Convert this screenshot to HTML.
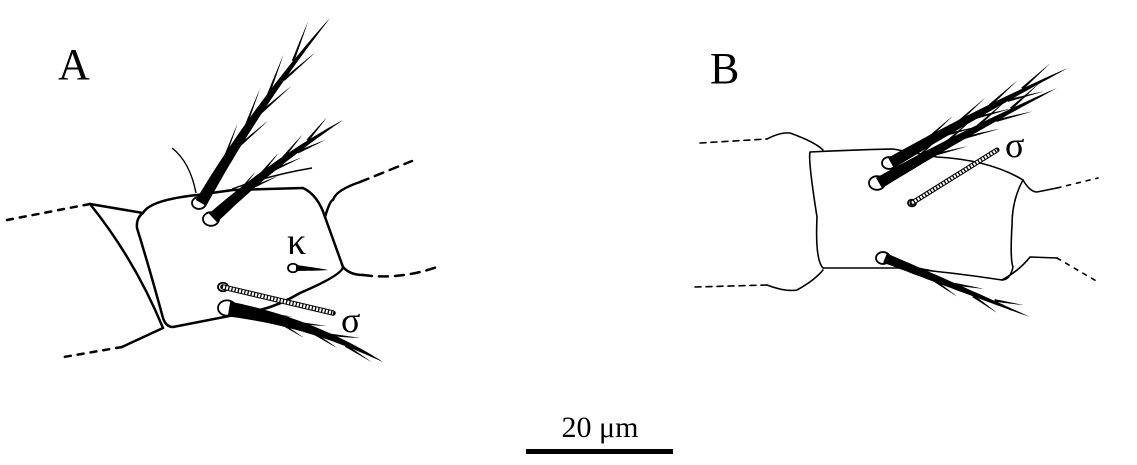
<!DOCTYPE html>
<html><head><meta charset="utf-8"><style>
html,body{margin:0;padding:0;background:#fff;}
svg{display:block}
text{font-family:"Liberation Serif",serif;fill:#000}
</style></head><body>
<svg id="s" width="1137" height="465" viewBox="0 0 1137 465" xmlns="http://www.w3.org/2000/svg">
<g fill="none" stroke="#000" stroke-linejoin="round" stroke-linecap="round">
<path d="M90,204 L143,213" stroke-width="2.5"/>
<path d="M7,220 L90,204" stroke-width="2.5" stroke-dasharray="6,7"/>
<path d="M90,204 Q135,260 163,328" stroke-width="2.5"/>
<path d="M163,328 L122,347" stroke-width="2.5"/>
<path d="M122,347 L58,358" stroke-width="2.5" stroke-dasharray="6,7"/>
<path d="M143,213 Q150,200 197,195 L233,190 L303,188 Q318,195 325,217 L343,267 Q342,275 300,293 Q280,305 260,310 L173,327 Q166,327 163,318 Q150,270 137,228 Q136,218 143,213 Z" stroke-width="2.5"/>
<path d="M325,217 Q330,200 333,200 Q336,190 360,182" stroke-width="2.5"/>
<path d="M360,182 L412,161" stroke-width="2.5" stroke-dasharray="9,7"/>
<path d="M343,267 Q350,275 363,275" stroke-width="2.5"/>
<path d="M363,275 Q400,280 437,267" stroke-width="2.5" stroke-dasharray="9,7"/>
<path d="M810,152 Q850,150 893,149 L937,157 Q990,160 1023,180 Q1012,200 1012,225 Q1010,260 1013,267 Q1010,280 1002,280 Q950,272 900,268 L823,268 Q815,260 817,217 Q808,160 810,152 Z" stroke-width="1.6"/>
<path d="M767,139 Q780,132 790,133 Q815,142 823,150" stroke-width="1.6"/>
<path d="M700,143 L767,139" stroke-width="1.6" stroke-dasharray="6,5"/>
<path d="M1023,180 Q1030,192 1037,192 L1057,188" stroke-width="1.6"/>
<path d="M1057,188 L1098,178" stroke-width="1.6" stroke-dasharray="4,6"/>
<path d="M1002,280 Q1020,270 1030,257 L1057,258" stroke-width="1.6"/>
<path d="M1057,258 L1098,282" stroke-width="1.6" stroke-dasharray="4,6"/>
<path d="M695,287 L767,285" stroke-width="1.6" stroke-dasharray="6,5"/>
<path d="M767,285 Q785,292 797,290 Q815,280 823,270" stroke-width="1.6"/>
</g>
<g id="setae"></g>
<text x="58" y="79" font-size="44">A</text>
<text x="710" y="83" font-size="44">B</text>
<text x="287" y="254" font-size="38">κ</text>
<text x="341" y="332" font-size="36">σ</text>
<text x="1005" y="157" font-size="36">σ</text>
<text x="600" y="437" font-size="30" text-anchor="middle">20 μm</text>
<rect x="526" y="449" width="147" height="5" fill="#000"/>
</svg>
<script>
var g=document.getElementById('setae'),NS='http://www.w3.org/2000/svg';
function el(t,a){var e=document.createElementNS(NS,t);for(var k in a)e.setAttribute(k,a[k]);g.appendChild(e);return e;}
function pt(x1,y1,cx,cy,x2,y2,t){return [(1-t)*(1-t)*x1+2*t*(1-t)*cx+t*t*x2,(1-t)*(1-t)*y1+2*t*(1-t)*cy+t*t*y2];}
function taper(x1,y1,x2,y2,w,bend){
 var dx=x2-x1,dy=y2-y1,L=Math.hypot(dx,dy),px=-dy/L,py=dx/L;
 var cx=(x1+x2)/2+px*bend,cy=(y1+y2)/2+py*bend,a=[],b=[];
 for(var i=0;i<=30;i++){var t=i/30,p=pt(x1,y1,cx,cy,x2,y2,t),p2=pt(x1,y1,cx,cy,x2,y2,Math.min(1,t+0.01));
  var tx=p2[0]-p[0],ty=p2[1]-p[1],tl=Math.hypot(tx,ty)||1,nx=-ty/tl,ny=tx/tl,hw=w/2*Math.pow(1-t,0.8);
  a.push((p[0]+nx*hw).toFixed(1)+','+(p[1]+ny*hw).toFixed(1));b.unshift((p[0]-nx*hw).toFixed(1)+','+(p[1]-ny*hw).toFixed(1));}
 el('path',{d:'M'+a.join(' L')+' L'+b.join(' L')+' Z',fill:'#000'});
 return [cx,cy];
}
function seta(x1,y1,x2,y2,w,bend,hairs){
 var c=taper(x1,y1,x2,y2,w,bend),dx=x2-x1,dy=y2-y1,L=Math.hypot(dx,dy),px=-dy/L,py=dx/L;
 for(var i=0;i<hairs;i++){var t=0.2+0.55*i/Math.max(1,hairs-1),s=(i%2?1:-1);
  var p=pt(x1,y1,c[0],c[1],x2,y2,t),len=L*0.18;
  var ex=p[0]+dx/L*len+px*s*len*0.3,ey=p[1]+dy/L*len+py*s*len*0.3;
  taper(p[0]+px*s*2,p[1]+py*s*2,ex,ey,2.6,0);}
}
function sock(x,y,r){el('ellipse',{cx:x,cy:y,rx:r,ry:r*0.85,fill:'#fff',stroke:'#000','stroke-width':1.8});}
function sol(x1,y1,x2,y2,w){el('line',{x1:x1,y1:y1,x2:x2,y2:y2,stroke:'#000','stroke-width':w+2,'stroke-linecap':'round'});
 el('line',{x1:x1,y1:y1,x2:x2,y2:y2,stroke:'#fff','stroke-width':w,'stroke-linecap':'butt','stroke-dasharray':'2,1.3'});}
// A
sock(199,203,7);sock(211,219,8);sock(293,268,5);sock(223,287,5);sock(227,308,9);
sol(223,287,333,313,3.5);
seta(201,203,330,18,12,-10,7);
el('path',{d:'M196,193 Q190,162 172,148',stroke:'#000','stroke-width':1.4,fill:'none'});
seta(213,218,343,120,12,-8,7);
el('path',{d:'M232,189 Q270,175 312,168',stroke:'#000','stroke-width':1.4,fill:'none'});
seta(229,309,383,362,15,-14,6);
taper(296,268,328,270,6,0);
// B
sock(889,163,7);sock(877,183,8);sock(883,258,7);sock(912,203,4);
sol(912,203,997,150,3);
seta(891,163,1068,68,12,-4,7);
seta(879,183,1057,88,12,-4,7);
seta(885,258,1030,317,10,0,5);
</script>
</body></html>
